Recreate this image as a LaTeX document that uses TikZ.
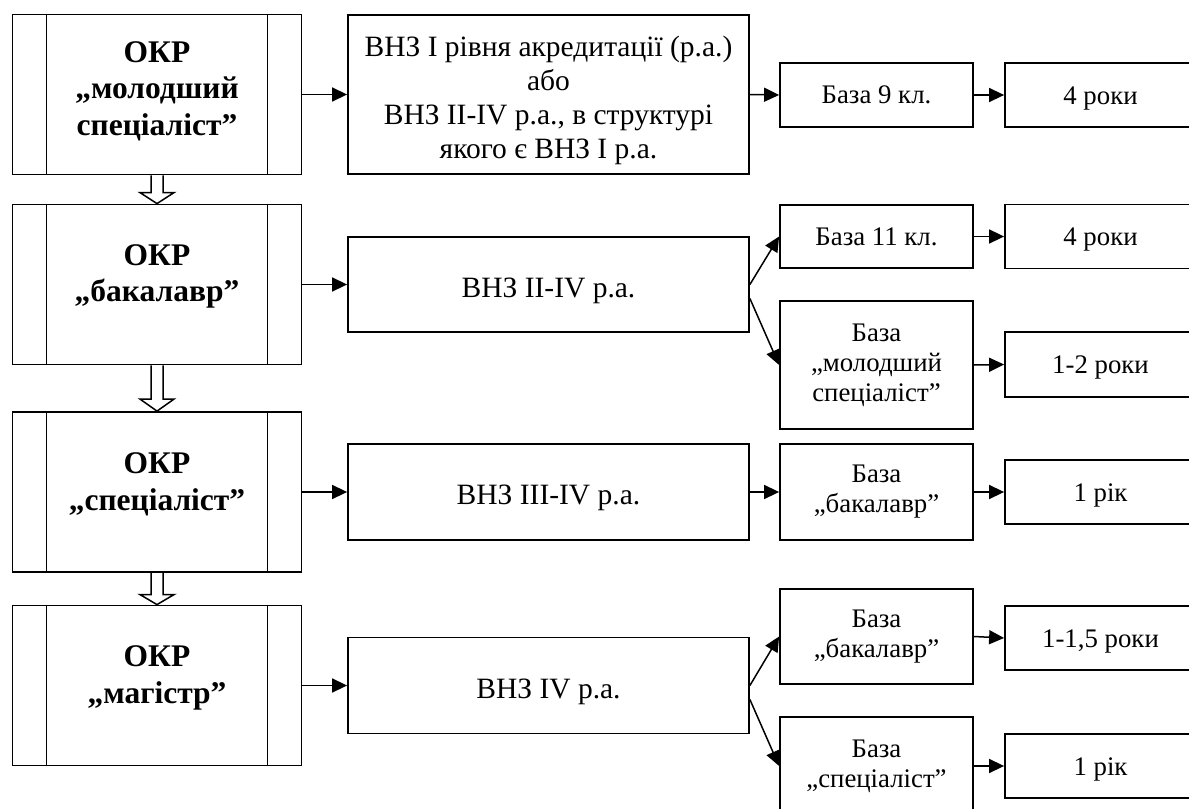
\documentclass[tikz,border=0pt]{standalone}
\usepackage{fontspec}
\setmainfont{Liberation Serif}
\usetikzlibrary{arrows.meta,calc}
\begin{document}
\begin{tikzpicture}[x=1bp,y=-1bp,
  box/.style={draw,line width=1.8bp,inner sep=0pt,align=center},
  okr/.style={box,minimum width=289bp,minimum height=160bp,text height=41.7bp,
    font=\fontsize{31.5bp}{36.7bp}\selectfont\bfseries},
  vnz/.style={box,minimum width=401bp,text height=31.5bp,
    font=\fontsize{29.5bp}{34bp}\selectfont},
  base/.style={box,minimum width=193bp,
    font=\fontsize{26.8bp}{30bp}\selectfont},
  term/.style={box,minimum width=191bp,minimum height=64bp,text height=24bp,
    font=\fontsize{26.8bp}{30bp}\selectfont},
  link/.style={line width=1.5bp,-{Triangle[length=15bp,width=14bp]}},
  hollow/.style={line width=1.5bp,line join=miter}
]
\fill[white] (0,0) rectangle (1189,809);
\useasboundingbox (0,0) rectangle (1189,809);
\clip (0,0) rectangle (1189,809);

% qualification levels
\node[okr,text height=87.4bp] (okr1) at (157,94.5)  {ОКР\\„молодший\\спеціаліст”};
\node[okr] (okr2) at (157,284.5) {ОКР\\„бакалавр”};
\node[okr] (okr3) at (157,492)   {ОКР\\„спеціаліст”};
\node[okr] (okr4) at (157,685.5) {ОКР\\„магістр”};
\foreach \n in {okr1,okr2,okr3,okr4}{
  \draw[line width=1.8bp] ($(\n.north west)+(35,0)$) -- ($(\n.south west)+(35,0)$);
  \draw[line width=1.8bp] ($(\n.north east)+(-35,0)$) -- ($(\n.south east)+(-35,0)$);
}

% institutions
\node[vnz,minimum height=159bp,text height=134.5bp] (vA) at (548.5,94.5)
  {ВНЗ I рівня акредитації (р.а.)\\або\\ВНЗ II-IV р.а., в структурі\\якого є ВНЗ I р.а.};
\node[vnz,minimum height=95bp] (vB) at (548.5,284.5) {ВНЗ II-IV р.а.};
\node[vnz,minimum height=96bp] (vC) at (548.5,492)   {ВНЗ III-IV р.а.};
\node[vnz,minimum height=96bp] (vD) at (548.5,685.5) {ВНЗ IV р.а.};

% entry base
\node[base,minimum height=64bp]  (b1) at (876.5,95)    {База 9 кл.};
\node[base,minimum height=63bp]  (b2) at (876.5,236.5) {База 11 кл.};
\node[base,minimum height=128bp] (b3) at (876.5,365)   {База\\„молодший\\спеціаліст”};
\node[base,minimum height=96bp]  (b4) at (876.5,492)   {База\\„бакалавр”};
\node[base,minimum height=95bp]  (b5) at (876.5,636.5) {База\\„бакалавр”};
\node[base,minimum height=98bp]  (b6) at (876.5,766)   {База\\„спеціаліст”};

% duration
\node[term] (t1) at (1100.5,95)    {4 роки};
\node[term] (t2) at (1100.5,236.5) {4 роки};
\node[term,minimum height=65bp] (t3) at (1100.5,364.5) {1-2 роки};
\node[term] (t4) at (1100.5,492)   {1 рік};
\node[term] (t5) at (1100.5,638)   {1-1,5 роки};
\node[term] (t6) at (1100.5,766)   {1 рік};

% transitions between levels
\foreach \a/\b/\h in {okr1/okr2/11,okr2/okr3/12,okr3/okr4/10}{
  \draw[hollow] ($(\a.south)+(-6,0)$) -- ($(\b.north)+(-6,-\h)$)
    -- ($(\b.north)+(-17,-\h)$) -- (\b.north) -- ($(\b.north)+(17,-\h)$)
    -- ($(\b.north)+(6,-\h)$) -- ($(\a.south)+(6,0)$);
}

% level -> institution
\draw[link] (okr1.east) -- (vA.west);
\draw[link] (okr2.east) -- (vB.west);
\draw[link] (okr3.east) -- (vC.west);
\draw[link] (okr4.east) -- (vD.west);

% institution -> base
\draw[link] (vA.east) -- (b1.west);
\draw[link] (vB.east) -- (b2.west);
\draw[link] ($(vB.east)+(0,14)$) -- (b3.west);
\draw[link] (vC.east) -- (b4.west);
\draw[link] (vD.east) -- (b5.west);
\draw[link] ($(vD.east)+(0,14)$) -- (b6.west);

% base -> duration
\draw[link] (b1.east) -- (t1.west);
\draw[link] (b2.east) -- (t2.west);
\draw[link] (b3.east) -- (t3.west);
\draw[link] (b4.east) -- (t4.west);
\draw[link] (b5.east) -- (t5.west);
\draw[link] (b6.east) -- (t6.west);
\end{tikzpicture}
\end{document}
